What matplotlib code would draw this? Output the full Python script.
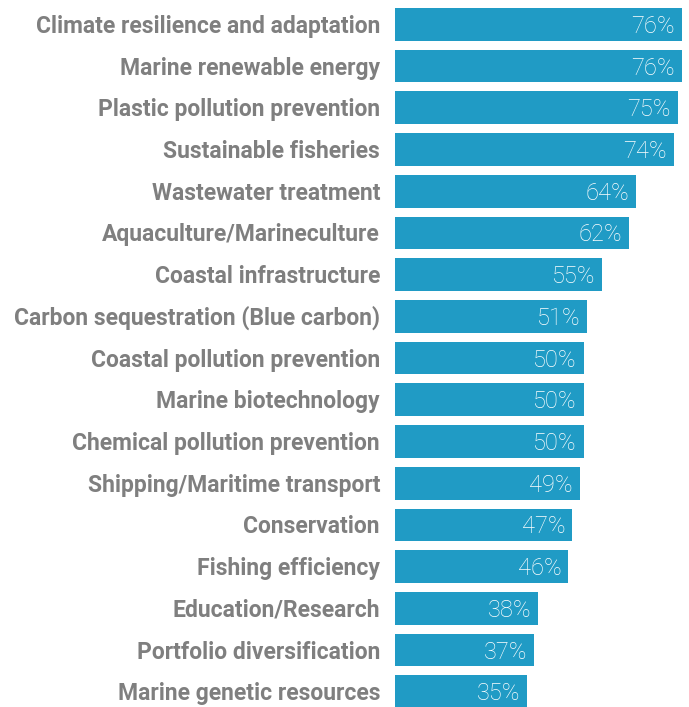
import matplotlib.pyplot as plt
from matplotlib.transforms import offset_copy

#Dati
categorie = ["Climate resilience and adaptation", "Marine renewable energy",
             "Plastic pollution prevention", "Sustainable fisheries",
             "Wastewater treatment", "Aquaculture/Marineculture",
             "Coastal infrastructure", "Carbon sequestration (Blue carbon)",
             "Coastal pollution prevention", "Marine biotechnology",
             "Chemical pollution prevention", "Shipping/Maritime transport",
             "Conservation", "Fishing efficiency", "Education/Research",
             "Portfolio diversification", "Marine genetic resources"]
valori = [76, 76, 75, 74, 64, 62, 55, 51, 50, 50, 50, 49, 47, 46, 38, 37, 35]

W, H = 689, 707
fig = plt.figure(figsize=(W/100, H/100), dpi=100)
# asse in pixel: barre da x=395, passo 41.7 px
px_per = 3.77
left = 395
top = 3.5
passo = 41.71
alt_ax = passo*len(valori)
ax = fig.add_axes([left/W, (H - top - alt_ax)/H, (W-left)/W, alt_ax/H])
ax.set_xlim(0, (W-left)/px_per)
ax.set_ylim(len(valori)-0.5, -0.5)

y = range(len(valori))
ax.barh(y, valori, height=0.784, color="#209bc5")
ax.axis("off")

lab_tr = offset_copy(ax.transData, fig=fig, x=-15, y=-8.5, units="dots")
val_tr = offset_copy(ax.transData, fig=fig, x=-7, y=-8.5, units="dots")
for i, (c, v) in enumerate(zip(categorie, valori)):
    ax.text(0, i, c, transform=lab_tr, ha="right", va="baseline",
            family="Roboto", fontweight="bold", fontsize=16.5, color="#7f7f7f")
    ax.text(v, i, f"{v}%", transform=val_tr, ha="right", va="baseline",
            family="Roboto", fontweight="light", fontsize=17, color="white")

fig.savefig("out.png", dpi=100)
